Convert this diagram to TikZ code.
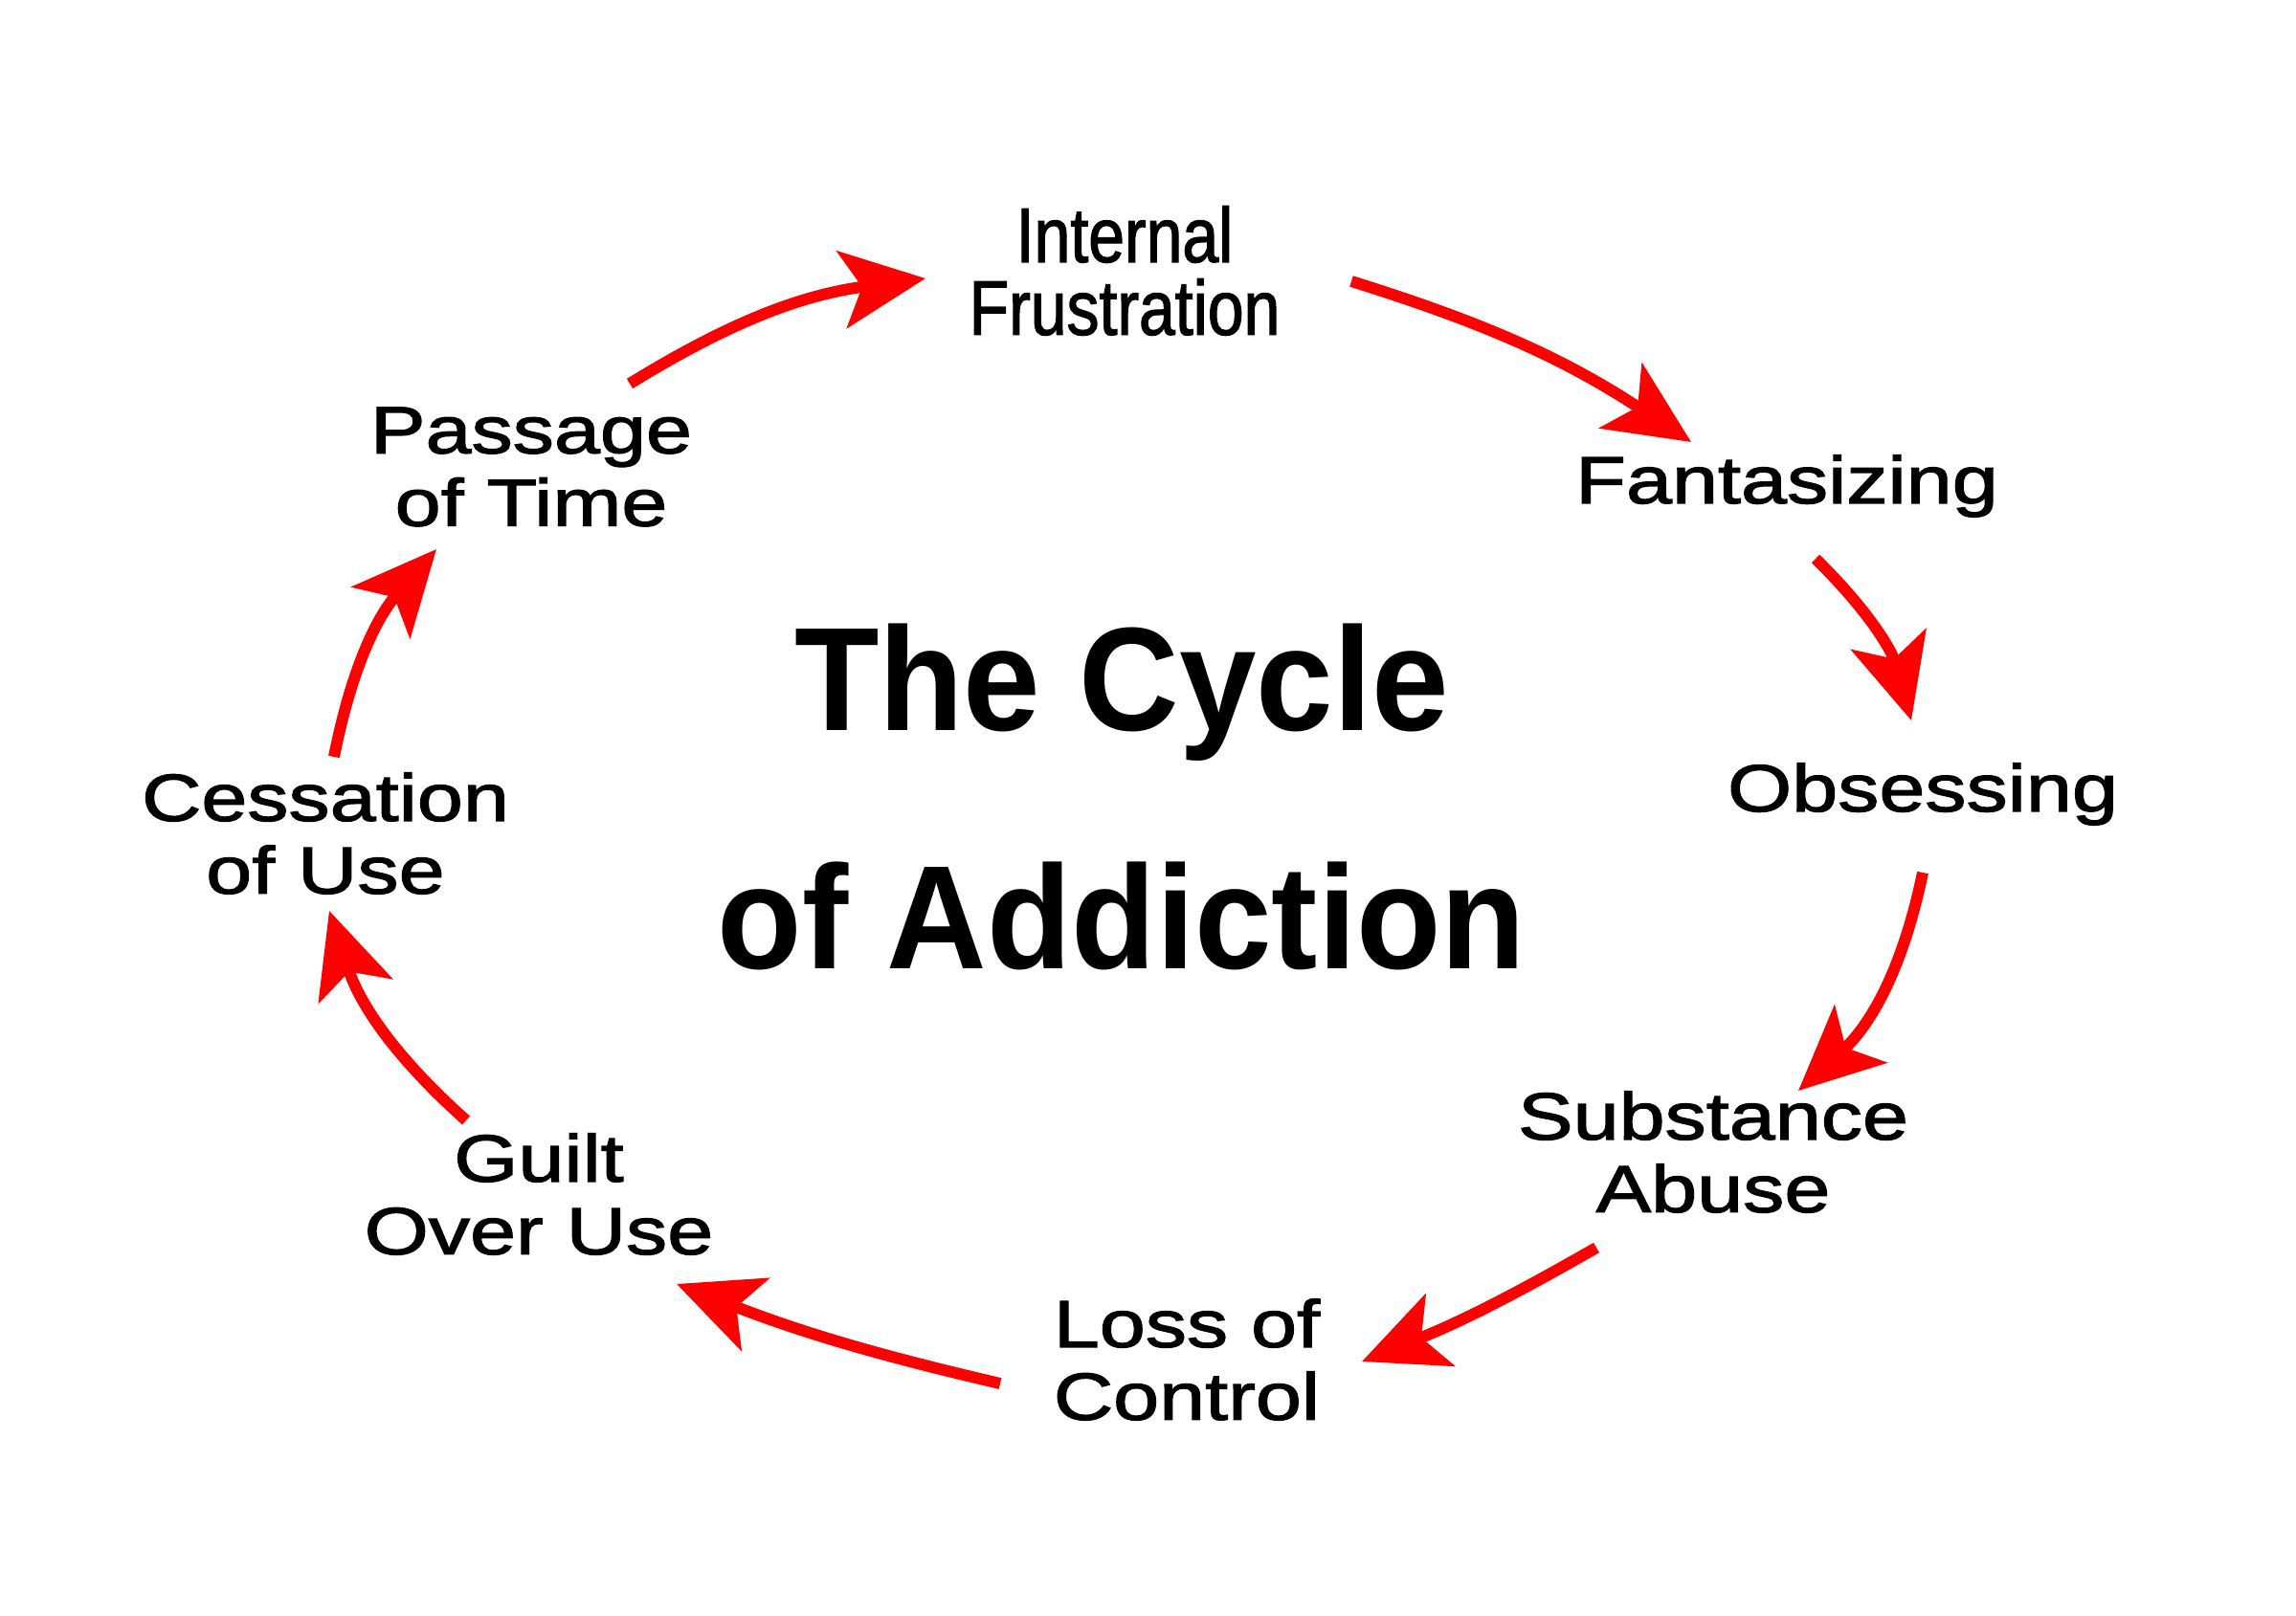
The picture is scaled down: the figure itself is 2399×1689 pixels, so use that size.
\documentclass[tikz,border=0pt]{standalone}
\usepackage{fontspec}
\setmainfont{Liberation Sans}
\newfontfamily\labelfont[FakeStretch=1.24,FakeBold=1.8]{Liberation Sans}
\newfontfamily\narrowfont[FakeStretch=0.84,FakeBold=1.5]{Liberation Sans}
\newfontfamily\titlefont[FakeStretch=0.94]{Liberation Sans Bold}
\usetikzlibrary{arrows.meta,calc}

\begin{document}
\begin{tikzpicture}[x=0.01cm,y=-0.01cm,
  stage/.style={align=center,inner sep=0pt,font=\labelfont\fontsize{19.8}{21.6}\selectfont},
  cyclearrow/.style={draw=red,line width=3.4pt,-{Stealth[length=25pt,width=23pt,inset=6pt]}}]
  \useasboundingbox (0,0) rectangle (2399,1689);

  \node[align=center,inner sep=0pt,font=\narrowfont\fontsize{23}{21.6}\selectfont] (inner) at (1175,283) {Internal\\Frustration};
  \node[stage] (fant) at (1867,508) {Fantasizing};
  \node[stage] (obs) at (2009,830) {Obsessing};
  \node[stage] (subst) at (1790,1204) {Substance\\Abuse};
  \node[stage] (loss) at (1240,1421) {Loss of\\Control};
  \node[stage] (guilt) at (563,1248) {Guilt\\Over Use};
  \node[stage] (cess) at (340,871) {Cessation\\of Use};
  \node[stage] (pass) at (555,488) {Passage\\of Time};

  \node[align=center,inner sep=0pt,font=\titlefont\fontsize{43.8}{71}\selectfont] (title) at (1172,833) {The Cycle\\of Addiction};

  \draw[cyclearrow] ($(pass)+(103,-87)$) to[bend left=12] ($(inner)+(-208,8)$);
  \draw[cyclearrow] ($(inner)+(237,11)$) to[bend left=8] ($(fant)+(-100,-46)$);
  \draw[cyclearrow] ($(fant)+(30,76)$) to[bend left=15] ($(obs)+(-12,-77)$);
  \draw[cyclearrow] ($(obs)+(0,82)$) to[bend left=18] ($(subst)+(89,-64)$);
  \draw[cyclearrow] ($(subst)+(-122,100)$) to[bend left=4] ($(loss)+(183,2)$);
  \draw[cyclearrow] ($(loss)+(-195,25)$) to[bend left=4] ($(guilt)+(144,94)$);
  \draw[cyclearrow] ($(guilt)+(-76,-77)$) to[bend left=15] ($(cess)+(4,81)$);
  \draw[cyclearrow] ($(cess)+(9,-80)$) to[bend left=15] ($(pass)+(-99,86)$);
\end{tikzpicture}
\end{document}
